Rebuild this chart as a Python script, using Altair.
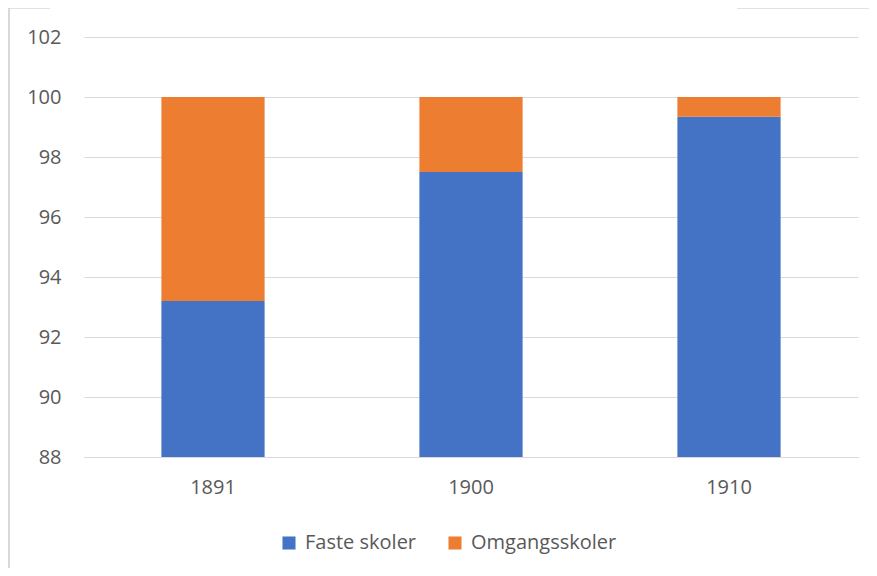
import altair as alt
import pandas as pd

years = ["1891", "1900", "1910"]
faste = [93.2, 97.5, 99.34]
omgang = [6.8, 2.5, 0.66]
series = ["Faste skoler", "Omgangsskoler"]
colors = ["#4472C4", "#ED7D31"]
y_ticks = [88, 90, 92, 94, 96, 98, 100, 102]

rows = []
for i, yr in enumerate(years):
    rows.append({"year": yr, "series": series[0], "value": faste[i], "ord": 0})
    rows.append({"year": yr, "series": series[1], "value": omgang[i], "ord": 1})
df = pd.DataFrame(rows)

FONT = "Open Sans"
GRAY = "#595959"
FS = 20

bars = alt.Chart(df).mark_bar(clip=True).encode(
    x=alt.X("year:N", sort=years,
            scale=alt.Scale(paddingInner=0.6, paddingOuter=0.3),
            axis=alt.Axis(title=None, labelAngle=0, ticks=False, domain=True,
                          domainColor="#d9d9d9", labelPadding=20, grid=False,
                          labelFont=FONT, labelFontSize=FS, labelColor=GRAY)),
    y=alt.Y("value:Q", stack="zero",
            scale=alt.Scale(domain=[88, 102], nice=False, zero=False),
            axis=alt.Axis(title=None, values=y_ticks, ticks=False, domain=False,
                          gridColor="#d9d9d9", labelPadding=23,
                          labelFont=FONT, labelFontSize=FS, labelColor=GRAY)),
    color=alt.Color("series:N", sort=series,
                    scale=alt.Scale(domain=series, range=colors),
                    legend=alt.Legend(title=None, orient="none", direction="horizontal",
                                      legendX=195, legendY=496,
                                      symbolType="square", symbolSize=170,
                                      symbolStrokeWidth=0, columnPadding=28,
                                      labelFont=FONT, labelFontSize=FS,
                                      labelColor=GRAY, labelOffset=6)),
    order=alt.Order("ord:Q"),
)

one = pd.DataFrame({"a": [0]})
left_border = alt.Chart(one).mark_rule(color="#d9d9d9", strokeWidth=2).encode(
    x=alt.value(-75), y=alt.value(-29), y2=alt.value(540))
top_border1 = alt.Chart(one).mark_rule(color="#d9d9d9", strokeWidth=1.5).encode(
    x=alt.value(-76), x2=alt.value(-34), y=alt.value(-29))
top_border2 = alt.Chart(one).mark_rule(color="#d9d9d9", strokeWidth=1.5).encode(
    x=alt.value(653), x2=alt.value(800), y=alt.value(-29))

chart = alt.layer(bars, left_border, top_border1, top_border2).properties(
    width=774, height=420,
    autosize=alt.AutoSizeParams(type="none"),
    padding={"left": 76, "top": 29, "right": 11, "bottom": 111},
).configure_view(stroke=None)

chart.save("out.html", embed_options={"renderer": "svg", "actions": False})
